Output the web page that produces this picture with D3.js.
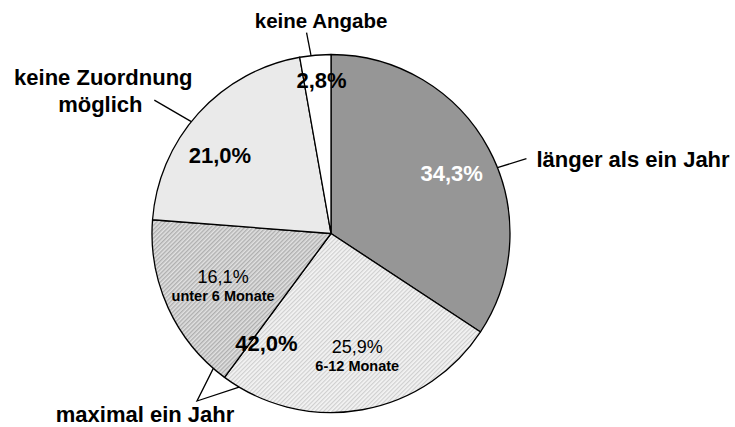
<!DOCTYPE html>
<html><head><meta charset="utf-8">
<script src="https://cdn.jsdelivr.net/npm/d3@7"></script>
<style>body{margin:0;background:#fff}svg{display:block}</style>
</head><body>
<svg id="c" width="735" height="427"></svg>
<script>
// ---- data ----
const categories = ["länger als ein Jahr", "6-12 Monate", "unter 6 Monate", "keine Zuordnung möglich", "keine Angabe"];
const values = [34.3, 25.9, 16.1, 21.0, 2.8];
const groupName = "maximal ein Jahr";
const groupMembers = [1, 2];

const fmt = v => v.toFixed(1).replace(".", ",") + "%";

// ---- layout ----
const W = 735, H = 427, cx = 331, cy = 233.5, R = 179;
const FONT = "'Liberation Sans', Arial, sans-serif";
const fills = ["#969696", "url(#hLight)", "url(#hDark)", "#eaeaea", "#ffffff"];

const svg = d3.select("#c");
const defs = svg.append("defs");
function hatch(id, bg, fg, w) {
  const p = defs.append("pattern").attr("id", id).attr("patternUnits", "userSpaceOnUse")
    .attr("width", 3).attr("height", 3).attr("patternTransform", "rotate(45)");
  p.append("rect").attr("width", 3).attr("height", 3).attr("fill", bg);
  p.append("rect").attr("width", w).attr("height", 3).attr("fill", fg);
}
hatch("hLight", "#f4f4f4", "#cfcfcf", 1.2);
hatch("hDark", "#e2e2e2", "#afafaf", 1.4);

const g = svg.append("g").attr("transform", `translate(${cx},${cy})`);
const pie = d3.pie().sort(null).value(d => d)(values);
const arc = d3.arc().innerRadius(0).outerRadius(R);

g.selectAll("path.slice").data(pie).join("path").attr("class", "slice")
  .attr("d", arc).attr("fill", (d, i) => fills[i])
  .attr("stroke", "#000").attr("stroke-width", 1.3).attr("stroke-linejoin", "round");

const pol = (a, r) => [r * Math.sin(a), -r * Math.cos(a)];
const deg = Math.PI / 180;

function text(x, y, s, size, weight, color, anchor) {
  g.append("text").attr("x", x).attr("y", y).text(s)
    .attr("font-family", FONT).attr("font-size", size).attr("font-weight", weight)
    .attr("fill", color || "#000").attr("text-anchor", anchor || "middle");
}
function line(pts) {
  g.append("path").attr("d", d3.line()(pts)).attr("fill", "none")
    .attr("stroke", "#000").attr("stroke-width", 1.3);
}

// percentage labels inside slices (polar: angle offset from slice mid, radius)
const inner = [
  {i: 0, da: 1.7, r: 135, color: "#fff", weight: "bold", size: 22},
  {i: 1, da: -3, r: 116, color: "#000", weight: "normal", size: 18},
  {i: 2, da: 3, r: 116, color: "#000", weight: "normal", size: 18},
  {i: 3, da: -6.9, r: 136, color: "#000", weight: "bold", size: 22},
  {i: 4, da: 1.5, r: 154, color: "#000", weight: "bold", size: 22}
];
inner.forEach(o => {
  const d = pie[o.i];
  const [x, y] = pol((d.startAngle + d.endAngle) / 2 + o.da * deg, o.r);
  const base = y + 0.36 * o.size;
  text(x, base, fmt(values[o.i]), o.size, o.weight, o.color);
  if (o.i === 1 || o.i === 2) text(x, base + 18.5, categories[o.i], 14.5, "bold", "#000");
});

// group label (sum)
const gSum = d3.sum(groupMembers, i => values[i]);
const gAngle = pie[groupMembers[0]].endAngle;
{
  const [x, y] = pol(gAngle - 5.9 * deg, 127);
  text(x, y + 0.36 * 22, fmt(gSum), 22, "bold", "#000");
}

// outer labels with leader lines
{ // länger als ein Jahr
  const [x1, y1] = pol(68.4 * deg, R);
  line([[x1, y1], [x1 + 29, y1 - 9]]);
  text(x1 + 39, y1 - 0.5, categories[0], 22, "bold", "#000", "start");
}
{ // keine Angabe
  const [x1, y1] = pol(353.6 * deg, R);
  line([[x1, y1], [x1 - 4.5, y1 - 23]]);
  text(x1 + 10, y1 - 28, categories[4], 20.5, "bold", "#000");
}
{ // keine Zuordnung möglich
  const [x1, y1] = pol(308.7 * deg, R);
  line([[x1, y1], [x1 - 37, y1 - 21.5]]);
  text(x1 - 88, y1 - 36.6, "keine Zuordnung", 22, "bold", "#000");
  text(x1 - 91, y1 - 9.6, "möglich", 22, "bold", "#000");
}
{ // maximal ein Jahr bracket
  const [ax, ay] = pol(gAngle + 4.6 * deg, R);
  const [bx, by] = pol(gAngle - 5.6 * deg, R);
  const apex = [-134, 167.5];
  line([[ax, ay], apex, [bx, by]]);
  text(apex[0] - 52, apex[1] + 21, groupName, 22, "bold", "#000");
}
</script>
</body></html>
